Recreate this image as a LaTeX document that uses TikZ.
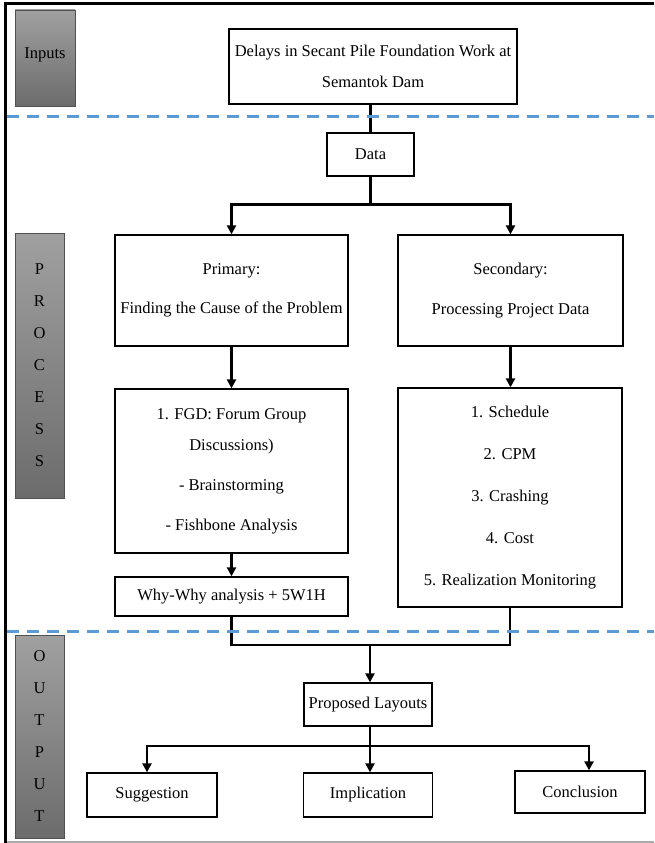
\documentclass[tikz,border=0pt]{standalone}
\usepackage{fontspec}
\setmainfont{Liberation Serif}
\usepackage{tikz}
\usetikzlibrary{arrows.meta,positioning}
\definecolor{sidegray}{RGB}{108,108,108}
\definecolor{sidelight}{RGB}{160,160,160}
\definecolor{sideedge}{RGB}{80,80,80}
\definecolor{dividerblue}{RGB}{91,155,213}
\definecolor{framegray}{RGB}{170,170,170}

\begin{document}
\begin{tikzpicture}[
        x=1pt, y=-1pt,
        >={Triangle[width=9pt,length=9pt]},
        every node/.style={font=\fontsize{16.5}{31}\selectfont},
        box/.style={draw=black, line width=1.3pt, fill=white, align=center, inner sep=0pt},
        side/.style={draw=sideedge, line width=0.8pt, top color=sidelight, bottom color=sidegray, text=black, align=center, inner sep=0pt, font=\fontsize{16.5}{32}\selectfont},
        conn/.style={line width=2.6pt},
        divider/.style={dividerblue, line width=3pt, dash pattern=on 12pt off 8pt}
    ]
        \useasboundingbox (0,0) rectangle (654,843);
        \draw[line width=3pt] (5,843) -- (5,4) -- (654,4);
        \draw[framegray, line width=1.2pt] (7,842) -- (654,842);

        \node[side, minimum width=60pt, minimum height=96pt, text depth=10pt] (inputs) at (45,58) {Inputs};
        \node[side, minimum width=49pt, minimum height=265pt] (process) at (39.5,365.5) {P\\R\\O\\C\\E\\S\\S};
        \node[side, minimum width=49pt, minimum height=203pt] (output) at (39.5,736.5) {O\\U\\T\\P\\U\\T};

        \node[box, minimum width=288pt, minimum height=75pt] (delays) at (373,66.5) {Delays in Secant Pile Foundation Work at\\Semantok Dam};
        \node[box, minimum width=87pt, minimum height=43pt] (data) at (370.5,154.5) {Data};
        \node[box, minimum width=233pt, minimum height=111pt] (primary) at (231.5,290.5) {Primary:\\[8pt]Finding the Cause of the Problem};
        \node[box, minimum width=225pt, minimum height=111pt] (secondary) at (510.5,290.5) {Secondary:\\[9pt]Processing Project Data};
        \node[box, minimum width=233pt, minimum height=164pt] (fgd) at (231.5,471) {1. FGD: Forum Group\\Discussions)\\[9pt]- Brainstorming\\[9pt]- Fishbone Analysis};
        \node[box, minimum width=233pt, minimum height=39pt] (why) at (231.5,596.5) {Why-Why analysis + 5W1H};
        \node[box, minimum width=224pt, minimum height=219pt] (tasks) at (510,497.5) {1. Schedule\\[11pt]2. CPM\\[11pt]3. Crashing\\[11pt]4. Cost\\[11pt]5. Realization Monitoring};
        \node[box, minimum width=128pt, minimum height=43pt] (layouts) at (368,704.5) {Proposed Layouts};
        \node[box, minimum width=130pt, minimum height=44pt] (suggestion) at (152,795) {Suggestion};
        \node[box, minimum width=129pt, minimum height=44pt] (implication) at (368,795) {Implication};
        \node[box, minimum width=130pt, minimum height=42pt] (conclusion) at (580,792) {Conclusion};

        \coordinate (merge) at (370,645);
        \coordinate (split) at (370,746);

        \draw[conn] (data.north |- delays.south) -- (data.north);
        \draw[conn,->] (data.south) -- ++(0,28) -| (primary.north);
        \draw[conn,->] (data.south) -- ++(0,28) -| (secondary.north);
        \draw[conn,->] (primary) -- (fgd);
        \draw[conn,->] (secondary.south) -- (secondary.south |- tasks.north);
        \draw[conn,->] (fgd) -- (why);
        \draw[conn] (why.south) |- (merge) -| (tasks.south);
        \draw[conn,->] (merge) -- (merge |- layouts.north);
        \draw[conn] (layouts.south -| split) -- (split);
        \draw[conn,->] (split) -| ([xshift=-5pt]suggestion.north);
        \draw[conn,->] (split) -- (split |- implication.north);
        \draw[conn,->] (split) -| ([xshift=9pt]conclusion.north);

        \draw[divider] (7,116) -- (654,116);
        \draw[divider] (7,631) -- (654,631);
    \end{tikzpicture}
\end{document}
